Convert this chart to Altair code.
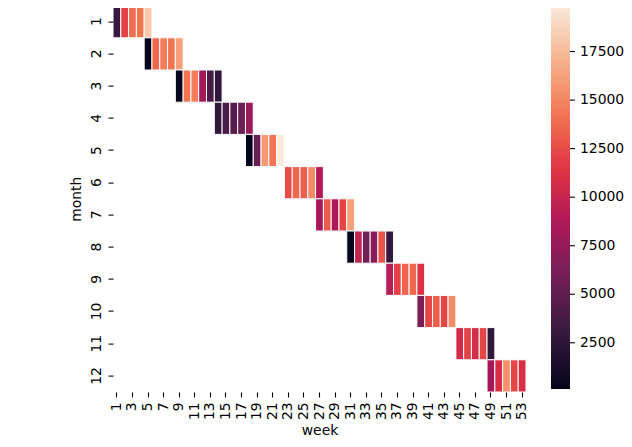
import altair as alt
import pandas as pd

# weeks covered by each month (rows 1..12)
weeks_by_month = [
    [1, 2, 3, 4, 5],
    [5, 6, 7, 8, 9],
    [9, 10, 11, 12, 13, 14],
    [14, 15, 16, 17, 18],
    [18, 19, 20, 21, 22],
    [23, 24, 25, 26, 27],
    [27, 28, 29, 30, 31],
    [31, 32, 33, 34, 35, 36],
    [36, 37, 38, 39, 40],
    [40, 41, 42, 43, 44],
    [45, 46, 47, 48, 49],
    [49, 50, 51, 52, 53],
]

# estimated cell values per month
values_by_month = [
    [3000, 12000, 14000, 14300, 18200],
    [450, 13700, 14600, 14300, 16200],
    [300, 14200, 14600, 8000, 3900, 2700],
    [2700, 4100, 4500, 5500, 7700],
    [120, 5500, 15900, 14200, 19950],
    [12500, 13600, 13300, 15300, 9000],
    [8400, 13100, 8700, 12200, 16200],
    [300, 9800, 5800, 7000, 12800, 3000],
    [9200, 12000, 13500, 13700, 11200],
    [6300, 12200, 13300, 12200, 15300],
    [10700, 12100, 10800, 12200, 2800],
    [8200, 10900, 15500, 12300, 11000],
]

months = [1, 2, 3, 4, 5, 6, 7, 8, 9, 10, 11, 12]
x_tick_labels = [1, 3, 5, 7, 9, 11, 13, 15, 17, 19, 21, 23, 25, 27, 29, 31,
                 33, 35, 37, 39, 41, 43, 45, 47, 49, 51, 53]
colorbar_ticks = [2500, 5000, 7500, 10000, 12500, 15000, 17500]

# seaborn "rocket" colormap stops
rocket = ["#03051a", "#35193e", "#701f57", "#ad1759",
          "#e13342", "#f37651", "#f6b48f", "#faebdd"]

rows = []
for m, wks, vals in zip(months, weeks_by_month, values_by_month):
    for w, v in zip(wks, vals):
        rows.append({"month": m, "week": w, "value": v})
df = pd.DataFrame(rows)
ticks_df = pd.DataFrame({"tick": colorbar_ticks})

vmin = float(df["value"].min())
vmax = float(df["value"].max())
n = len(rocket) - 1
stops = [vmin + (vmax - vmin) * i / n for i in range(n + 1)]

FONT = "DejaVu Sans"
FS = 13.9

# colorbar geometry (relative to the plot origin)
CB_X = 438
CB_Y = -1.6
CB_LEN = 385
CB_W = 19

heat = alt.Chart(df).mark_rect(stroke="white", strokeWidth=1).encode(
    x=alt.X(
        "week:O",
        scale=alt.Scale(paddingInner=0, paddingOuter=0),
        axis=alt.Axis(
            values=x_tick_labels, labelAngle=-90, labelAlign="right",
            labelBaseline="middle", labelOverlap=False, labelFlush=False,
            domain=False, tickSize=4.9, tickWidth=1.1, tickColor="#000",
            labelPadding=4.9, labelFont=FONT, labelFontSize=FS,
            labelColor="#000", title="week", titleFont=FONT,
            titleFontSize=FS, titleFontWeight="normal", titleColor="#000",
            titlePadding=4,
        ),
    ),
    y=alt.Y(
        "month:O",
        scale=alt.Scale(paddingInner=0, paddingOuter=0),
        axis=alt.Axis(
            labelAngle=-90, labelAlign="center", labelBaseline="bottom",
            domain=False, tickSize=4.9, tickWidth=1.1, tickColor="#000",
            labelPadding=4.9, labelFont=FONT, labelFontSize=FS,
            labelColor="#000", title="month", titleFont=FONT,
            titleFontSize=FS, titleFontWeight="normal", titleColor="#000",
            titlePadding=6,
        ),
    ),
    color=alt.Color(
        "value:Q",
        scale=alt.Scale(domain=stops, range=rocket, interpolate="rgb",
                        zero=False, nice=False),
        legend=alt.Legend(
            orient="none", legendX=CB_X, legendY=CB_Y, direction="vertical",
            gradientLength=CB_LEN, gradientThickness=CB_W,
            gradientStrokeWidth=0, title=None, values=colorbar_ticks,
            format="d", labelFont=FONT, labelFontSize=FS, labelColor="#000",
            labelOffset=10, labelOverlap=False,
        ),
    ),
)

cb_ticks = alt.Chart(ticks_df).mark_rule(color="#000", strokeWidth=1.1).encode(
    x=alt.value(CB_X + CB_W),
    x2=alt.value(CB_X + CB_W + 4.9),
    y=alt.Y(
        "tick:Q",
        scale=alt.Scale(domain=[vmin, vmax], range=[CB_Y + CB_LEN, CB_Y],
                        zero=False, nice=False),
        axis=None,
    ),
)

chart = alt.layer(heat, cb_ticks).resolve_scale(y="independent").properties(
    width=413,
    height=386.4,
    autosize=alt.AutoSizeParams(type="none"),
    padding={"left": 105, "top": -2.4, "right": 98, "bottom": 47},
).configure_view(stroke=None)

chart.save("out.html", embed_options={"renderer": "svg", "actions": False})
